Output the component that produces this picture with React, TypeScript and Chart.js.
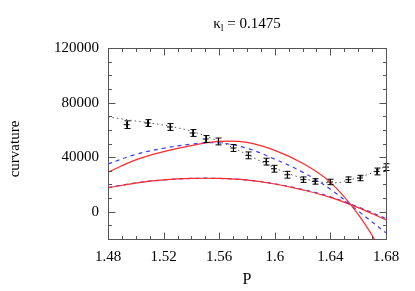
import React, { useEffect, useRef } from "react";
import { Chart, registerables } from "chart.js";

Chart.register(...registerables);

// Measured data (P, curvature, error)
const P_DATA = [1.4934, 1.5085, 1.5246, 1.5409, 1.5503, 1.5594, 1.5702, 1.581, 1.5937, 1.5994, 1.609, 1.6205, 1.6289, 1.6397, 1.6529, 1.6613, 1.6733, 1.68];
const CURV_DATA = [63800, 65000, 62100, 57700, 53300, 51500, 46700, 41300, 36700, 31500, 27100, 23500, 22200, 21800, 23500, 24700, 29500, 32700];
const CURV_ERR = [2800, 2500, 2500, 2500, 2500, 2500, 2500, 2500, 2500, 2500, 2500, 2000, 2000, 2000, 2000, 2000, 2500, 2500];

// Dotted fit through data
const P_FIT = [1.48, 1.5, 1.52, 1.54, 1.56, 1.58, 1.6, 1.62, 1.63, 1.64, 1.645, 1.65, 1.66, 1.67, 1.68];
const FIT = [69500, 66500, 63500, 59000, 51500, 42000, 32000, 24500, 22300, 21200, 21200, 22300, 25000, 28500, 33500];

// Model curves
const P_CURVE = [1.48, 1.5, 1.52, 1.54, 1.56, 1.58, 1.6, 1.62, 1.64, 1.66, 1.68];
const RED_UPPER = [29000, 38000, 44000, 48500, 51500, 50800, 45000, 35500, 21500, -2000, -34000];
const BLUE_UPPER = [35000, 42000, 46500, 49500, 50400, 46500, 38500, 29000, 16500, 500, -15500];
const RED_LOWER = [17500, 21000, 23300, 24400, 24400, 23200, 20300, 16000, 10500, 3000, -6000];
const BLUE_LOWER = [17700, 21100, 23300, 24400, 24400, 23300, 20500, 16300, 11000, 3500, -5000];

const X_LABELS = [1.48, 1.52, 1.56, 1.6, 1.64, 1.68];
const Y_LABELS = [0, 40000, 80000, 120000];

const TITLE_MAIN = "κ";
const TITLE_SUB = "l";
const TITLE_REST = " = 0.1475";
const X_TITLE = "P";
const Y_TITLE = "curvature";

const FONT = '"Liberation Serif", "DejaVu Serif", serif';

const pts = (xs: number[], ys: number[]) => xs.map((x, i) => ({ x, y: ys[i] }));
const isLabel = (v: number, arr: number[]) => arr.some((a) => Math.abs(a - v) < 1e-6);

const customPlugin = {
  id: "custom",
  afterDatasetsDraw(chart: any) {
    const { ctx, chartArea: a, scales } = chart;
    const xs = scales.x;
    const ys = scales.y;
    ctx.save();
    // error bars
    ctx.strokeStyle = "#000";
    ctx.lineWidth = 1;
    P_DATA.forEach((p, i) => {
      const px = Math.round(xs.getPixelForValue(p)) + 0.5;
      const t = ys.getPixelForValue(CURV_DATA[i] + CURV_ERR[i]);
      const b = ys.getPixelForValue(CURV_DATA[i] - CURV_ERR[i]);
      ctx.beginPath();
      ctx.moveTo(px, t);
      ctx.lineTo(px, b);
      ctx.moveTo(px - 3, t);
      ctx.lineTo(px + 3, t);
      ctx.moveTo(px - 3, b);
      ctx.lineTo(px + 3, b);
      ctx.stroke();
    });
    // frame
    ctx.strokeStyle = "#555";
    ctx.lineWidth = 1;
    const L = Math.round(a.left) + 0.5;
    const R = Math.round(a.right) + 0.5;
    const T = Math.round(a.top) + 0.5;
    const B = Math.round(a.bottom) + 0.5;
    ctx.strokeRect(L, T, R - L, B - T);
    // inward ticks, mirrored
    ctx.beginPath();
    xs.ticks.forEach((tk: any) => {
      const len = isLabel(tk.value, X_LABELS) ? 7 : 3.5;
      const px = Math.round(xs.getPixelForValue(tk.value)) + 0.5;
      ctx.moveTo(px, B);
      ctx.lineTo(px, B - len);
      ctx.moveTo(px, T);
      ctx.lineTo(px, T + len);
    });
    ys.ticks.forEach((tk: any) => {
      const len = isLabel(tk.value, Y_LABELS) ? 7 : 3.5;
      const py = Math.round(ys.getPixelForValue(tk.value)) + 0.5;
      ctx.moveTo(L, py);
      ctx.lineTo(L + len, py);
      ctx.moveTo(R, py);
      ctx.lineTo(R - len, py);
    });
    ctx.stroke();

    // titles
    ctx.fillStyle = "#000";
    const cx = (a.left + a.right) / 2;
    ctx.font = `15px ${FONT}`;
    const w1 = ctx.measureText(TITLE_MAIN).width;
    const w3 = ctx.measureText(TITLE_REST).width;
    ctx.font = `10px ${FONT}`;
    const w2 = ctx.measureText(TITLE_SUB).width;
    const x0 = cx - (w1 + w2 + w3) / 2;
    const base = 28;
    ctx.textBaseline = "alphabetic";
    ctx.textAlign = "left";
    ctx.font = `15px ${FONT}`;
    ctx.fillText(TITLE_MAIN, x0, base);
    ctx.font = `10px ${FONT}`;
    ctx.fillText(TITLE_SUB, x0 + w1, base + 3);
    ctx.font = `15px ${FONT}`;
    ctx.fillText(TITLE_REST, x0 + w1 + w2, base);

    ctx.font = `16px ${FONT}`;
    ctx.textAlign = "center";
    ctx.textBaseline = "middle";
    ctx.fillText(X_TITLE, cx, 280);

    ctx.font = `15px ${FONT}`;
    ctx.translate(15, 149);
    ctx.rotate(-Math.PI / 2);
    ctx.fillText(Y_TITLE, 0, 0);
    ctx.restore();
  },
};

const curve = (xs: number[], ys: number[], color: string, dash: number[]) => ({
  data: pts(xs, ys),
  showLine: true,
  borderColor: color,
  borderWidth: 1.2,
  borderDash: dash,
  pointRadius: 0,
  tension: 0.4,
  clip: 0,
});

export default function App() {
  const ref = useRef<HTMLCanvasElement>(null);
  useEffect(() => {
    document.body.style.margin = "0";
    const canvas = ref.current!;
    const chart = new Chart(canvas, {
      type: "scatter",
      data: {
        datasets: [
          {
            data: pts(P_FIT, FIT),
            showLine: true,
            borderColor: "#555",
            borderWidth: 1,
            borderDash: [1.5, 3],
            pointRadius: 0,
            cubicInterpolationMode: "monotone",
            clip: 0,
          } as any,
          curve(P_CURVE, RED_UPPER, "#ff2a2a", []),
          curve(P_CURVE, BLUE_UPPER, "#3a3aff", [4, 4]),
          curve(P_CURVE, RED_LOWER, "#ff2a2a", []),
          curve(P_CURVE, BLUE_LOWER, "#3a3aff", [4, 4]),
          {
            data: pts(P_DATA, CURV_DATA),
            showLine: false,
            pointStyle: "cross",
            pointRadius: 3,
            borderColor: "#000",
            borderWidth: 1,
            clip: false,
          } as any,
        ],
      },
      options: {
        animation: false,
        responsive: false,
        devicePixelRatio: 1,
        layout: { padding: { left: 0, right: 29, top: 48, bottom: 0 } },
        plugins: { legend: { display: false }, tooltip: { enabled: false }, title: { display: false } },
        scales: {
          x: {
            type: "linear",
            min: 1.48,
            max: 1.68,
            afterFit: (s: any) => {
              s.height = 52;
            },
            grid: { display: false, drawTicks: false },
            border: { display: false },
            ticks: {
              stepSize: 0.01,
              autoSkip: false,
              maxRotation: 0,
              padding: 9,
              color: "#000",
              font: { family: FONT, size: 15 },
              callback: (v: any) => (isLabel(Number(v), X_LABELS) ? String(Number(Number(v).toFixed(2))) : ""),
            },
          },
          y: {
            type: "linear",
            min: -20000,
            max: 120000,
            afterFit: (s: any) => {
              s.width = 108;
            },
            grid: { display: false, drawTicks: false },
            border: { display: false },
            ticks: {
              stepSize: 10000,
              autoSkip: false,
              padding: 9,
              color: "#000",
              font: { family: FONT, size: 15 },
              callback: (v: any) => (isLabel(Number(v), Y_LABELS) ? String(v) : ""),
            },
          },
        },
      },
      plugins: [customPlugin],
    });
    return () => chart.destroy();
  }, []);
  return (
    <div style={{ width: 415, height: 291 }}>
      <canvas ref={ref} width={415} height={291} style={{ width: 415, height: 291, display: "block" }} />
    </div>
  );
}
